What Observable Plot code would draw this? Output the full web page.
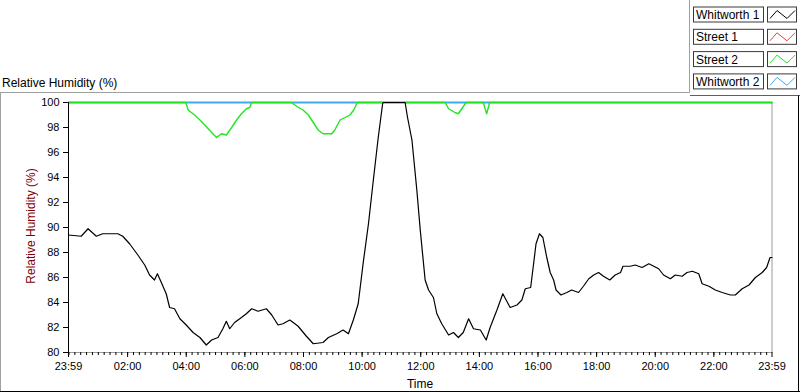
<!DOCTYPE html>
<html>
<head>
<meta charset="utf-8">
<script src="https://cdn.jsdelivr.net/npm/d3@7"></script>
<script src="https://cdn.jsdelivr.net/npm/@observablehq/plot@0.6"></script>
<style>
html, body { margin: 0; padding: 0; background: #fff; }
#chart { position: relative; width: 800px; height: 392px; overflow: hidden; }
</style>
</head>
<body>
<div id="chart"></div>
<script>
// ---- Data (minutes from midnight; -1 = 23:59 of previous day) ----
const seriesNames  = ["Whitworth 1", "Street 1", "Street 2", "Whitworth 2"];
const seriesColors = ["#000000", "#f03c3c", "#22e622", "#3fa9f0"];

const w1Time  = [-1, 25, 39, 56, 69, 100, 110, 124, 141, 155, 165, 175, 181, 189, 199, 206, 216, 227, 240, 254, 268, 281, 292, 305, 315, 322, 329, 339, 353, 363, 374, 387, 404, 415, 428, 438, 452, 459, 469, 486, 500, 520, 531, 548, 561, 572, 582, 592, 602, 613, 623, 633, 642, 643, 688, 693, 702, 712, 719, 729, 736, 746, 753, 763, 777, 787, 797, 807, 818, 828, 842, 854, 862, 876, 888, 903, 917, 927, 934, 945, 951, 956, 963, 970, 978, 985, 992, 997, 1007, 1019, 1029, 1043, 1053, 1064, 1074, 1084, 1094, 1107, 1118, 1129, 1134, 1149, 1159, 1173, 1187, 1197, 1207, 1217, 1231, 1241, 1255, 1265, 1276, 1289, 1296, 1310, 1323, 1337, 1354, 1364, 1378, 1392, 1405, 1419, 1428, 1435, 1439];
const w1Value = [89.4, 89.3, 89.9, 89.3, 89.5, 89.5, 89.3, 88.7, 87.8, 87.0, 86.2, 85.8, 86.3, 85.6, 84.7, 83.6, 83.5, 82.7, 82.2, 81.6, 81.2, 80.6, 81.0, 81.2, 81.9, 82.5, 81.9, 82.4, 82.8, 83.1, 83.5, 83.3, 83.5, 83.0, 82.2, 82.3, 82.6, 82.4, 82.1, 81.3, 80.7, 80.8, 81.2, 81.5, 81.8, 81.5, 82.6, 83.9, 87.1, 90.3, 93.8, 97.2, 99.9, 100, 100, 98.8, 97.0, 93.0, 89.8, 85.8, 85.0, 84.4, 83.1, 82.3, 81.4, 81.6, 81.2, 81.6, 82.7, 81.9, 81.8, 81.0, 82.0, 83.4, 84.7, 83.6, 83.8, 84.2, 85.1, 85.2, 87.1, 88.7, 89.5, 89.2, 87.6, 86.4, 85.8, 85.0, 84.6, 84.8, 85.0, 84.8, 85.3, 85.9, 86.2, 86.4, 86.1, 85.8, 86.2, 86.4, 86.9, 86.9, 87.0, 86.8, 87.1, 86.9, 86.7, 86.2, 85.9, 86.2, 86.1, 86.4, 86.5, 86.3, 85.5, 85.3, 85.0, 84.8, 84.6, 84.6, 85.1, 85.4, 86.0, 86.4, 86.8, 87.6, 87.6];

const s1Time  = [-1, 1439];
const s1Value = [100, 100];

const s2Time  = [-1, 239, 244, 257, 268, 278, 292, 302, 312, 322, 333, 343, 353, 363, 370, 374, 455, 466, 479, 490, 500, 510, 520, 538, 544, 555, 565, 575, 583, 590, 770, 777, 790, 797, 804, 811, 814, 848, 855, 861, 1439];
const s2Value = [100, 100, 99.4, 99.0, 98.6, 98.2, 97.6, 97.2, 97.5, 97.4, 98.0, 98.6, 99.1, 99.5, 99.6, 100, 100, 99.7, 99.4, 99.0, 98.4, 97.8, 97.5, 97.5, 97.8, 98.6, 98.8, 99.0, 99.4, 100, 100, 99.5, 99.2, 99.1, 99.5, 99.9, 100, 100, 99.1, 100, 100];

const w2Time  = [-1, 1439];
const w2Value = [100, 100];

const xTickValues = [-1, 120, 240, 360, 480, 600, 720, 840, 960, 1080, 1200, 1320, 1439];
const xTickLabels = ["23:59", "02:00", "04:00", "06:00", "08:00", "10:00", "12:00", "14:00", "16:00", "18:00", "20:00", "22:00", "23:59"];
const xMinorTicks = d3.range(0, 1439, 12);
const yTickValues = [80, 82, 84, 86, 88, 90, 92, 94, 96, 98, 100];

const titleText = "Relative Humidity (%)";
const yLabelText = "Relative Humidity (%)";
const xLabelText = "Time";

function rows(t, v) { return t.map((d, i) => ({t: d, v: v[i]})); }

const dataSets = [rows(w1Time, w1Value), rows(s1Time, s1Value), rows(s2Time, s2Value), rows(w2Time, w2Value)];
// draw order: Street 1, Whitworth 2, Street 2, Whitworth 1 (on top)
const drawOrder = [1, 3, 2, 0];

const FONT = "'Liberation Sans', Arial, sans-serif";

const plot = Plot.plot({
  width: 800,
  height: 392,
  marginLeft: 68,
  marginRight: 28.5,
  marginTop: 102,
  marginBottom: 40,
  style: {fontFamily: FONT, fontSize: "11px", color: "#000", background: "transparent", overflow: "visible"},
  x: {domain: [-1, 1439]},
  y: {domain: [80, 100]},
  marks: [
    Plot.frame({stroke: "#9a9a9a"}),
    Plot.axisX(xMinorTicks, {tickSize: 3, tickFormat: () => "", label: null}),
    Plot.axisX(xTickValues, {tickSize: 5, tickPadding: 5, tickFormat: d => xTickLabels[xTickValues.indexOf(d)], label: null}),
    Plot.axisY(yTickValues, {tickSize: 5, tickPadding: 4, label: null}),
    ...drawOrder.map(k => Plot.line(dataSets[k], {x: "t", y: "v", stroke: seriesColors[k], strokeWidth: k === 0 ? 1.2 : 1.4})),
    Plot.ruleX([-1], {stroke: "#000"})
  ]
});

document.getElementById("chart").appendChild(plot);

const svg = d3.select(plot);
const deco = svg.append("g").attr("text-anchor", "start");

// panel lines
deco.append("line").attr("x1", 0).attr("x2", 689.5).attr("y1", 92.5).attr("y2", 92.5).attr("stroke", "#a0a0a0");
deco.append("line").attr("x1", 689.5).attr("x2", 689.5).attr("y1", 0).attr("y2", 92.5).attr("stroke", "#a0a0a0");
deco.append("line").attr("x1", 690).attr("x2", 800).attr("y1", 95.5).attr("y2", 95.5).attr("stroke", "#606060");
deco.append("line").attr("x1", 0.5).attr("x2", 0.5).attr("y1", 92.5).attr("y2", 392).attr("stroke", "#a0a0a0");
deco.append("line").attr("x1", 0).attr("x2", 800).attr("y1", 391.5).attr("y2", 391.5).attr("stroke", "#000");
deco.append("line").attr("x1", 798.5).attr("x2", 798.5).attr("y1", 95.5).attr("y2", 392).attr("stroke", "#000");

// texts
deco.append("text").attr("x", 2).attr("y", 87).attr("text-anchor", "start").attr("font-family", FONT).attr("font-size", 12).attr("fill", "#000").text(titleText);
deco.append("text").attr("transform", "translate(35,226) rotate(-90)").attr("text-anchor", "middle")
  .attr("font-family", FONT).attr("font-size", 12).attr("fill", "#800000").text(yLabelText);
deco.append("text").attr("x", 420).attr("y", 388).attr("text-anchor", "middle")
  .attr("font-family", FONT).attr("font-size", 12).attr("fill", "#000").text(xLabelText);

// legend
seriesNames.forEach((name, i) => {
  const top = 6.5 + i * 22.3;
  const g = deco.append("g").attr("transform", `translate(0,${top})`);
  g.append("rect").attr("x", 693.5).attr("y", 0.5).attr("width", 70).attr("height", 15).attr("fill", "#fff").attr("stroke", "#3a3a3a");
  g.append("text").attr("x", 696).attr("y", 12.5).attr("text-anchor", "start").attr("font-family", FONT).attr("font-size", 12).attr("fill", "#000").text(name);
  g.append("rect").attr("x", 767.5).attr("y", 0.5).attr("width", 29).attr("height", 15).attr("fill", "#fff").attr("stroke", "#3a3a3a");
  g.append("polyline").attr("points", "770,12 777,4 787,12 795,4").attr("fill", "none").attr("stroke", seriesColors[i]).attr("stroke-width", 1);
});
</script>
</body>
</html>
